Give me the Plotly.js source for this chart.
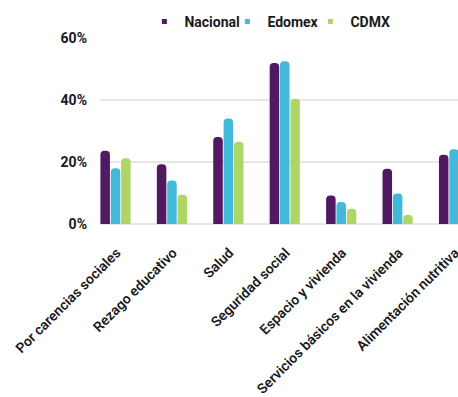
<!DOCTYPE html>
<html>
<head>
<meta charset="utf-8">
<script src="https://cdn.plot.ly/plotly-3.0.1.min.js"></script>
<style>html,body{margin:0;padding:0;overflow:hidden;background:#fff;}</style>
</head>
<body>
<div id="chart" style="width:458px;height:397px;"></div>
<script>
const categories = ["Por carencias sociales", "Rezago educativo", "Salud", "Seguridad social", "Espacio y vivienda", "Servicios básicos en la vivienda", "Alimentación nutritiva"];
const nacional = [23.6, 19.3, 28.1, 51.9, 9.2, 17.8, 22.3];
const edomex = [18.0, 14.0, 34.0, 52.5, 7.1, 9.8, 24.1];
const cdmx = [21.2, 9.4, 26.5, 40.4, 4.9, 3.0, 14.6];
const seriesNames = ["Nacional", "Edomex", "CDMX"];
const colors = ["#4f1a60", "#42b9d9", "#aed667"];
const yTicks = [0, 20, 40, 60];
const yTickLabels = ["0%", "20%", "40%", "60%"];

const values = [nacional, edomex, cdmx];
const traces = [];
values.forEach((v, i) => {
  traces.push({
    type: "bar", x: categories, y: v, name: seriesNames[i], showlegend: false,
    marker: {color: colors[i], cornerradius: 4, line: {width: 0}},
    hoverinfo: "skip"
  });
});
values.forEach((v, i) => {
  traces.push({
    type: "scatter", mode: "markers", x: [null], y: [null], name: seriesNames[i],
    marker: {symbol: "square", size: 5, color: colors[i]}, showlegend: true
  });
});

const layout = {
  width: 458, height: 397,
  margin: {l: 100, r: 0, t: 38, b: 173, pad: 0},
  paper_bgcolor: "#fff", plot_bgcolor: "#fff",
  font: {family: "Roboto, sans-serif", color: "#1a1a1a"},
  barmode: "group", bargap: 0.45, bargroupgap: 0.08,
  showlegend: true,
  legend: {orientation: "h", x: 0.124, xanchor: "left", y: 1.0, yanchor: "bottom",
    font: {size: 14, family: "Roboto, sans-serif", weight: 700, color: "#1a1a1a"},
    itemwidth: 30, entrywidth: 38, entrywidthmode: "pixels", traceorder: "normal"},
  xaxis: {type: "category", range: [-0.275, 6.07], showgrid: false, zeroline: false,
    showline: false, ticks: "", tickangle: -45, ticklabelstandoff: 17, ticklabelshift: 1,
    tickfont: {size: 14, family: "Roboto, sans-serif", weight: 600, color: "#1a1a1a"}},
  yaxis: {range: [0, 60], tickvals: yTicks, ticktext: yTickLabels, showgrid: true,
    gridcolor: "#e6e6e6", gridwidth: 1.5, zeroline: true, zerolinecolor: "#e6e6e6", zerolinewidth: 1.5,
    showline: false, ticks: "", ticklabelstandoff: 12,
    tickfont: {size: 14, family: "Roboto, sans-serif", weight: 700, color: "#1a1a1a"}}
};

Plotly.newPlot("chart", traces, layout, {displayModeBar: false, staticPlot: true});
</script>
</body>
</html>
